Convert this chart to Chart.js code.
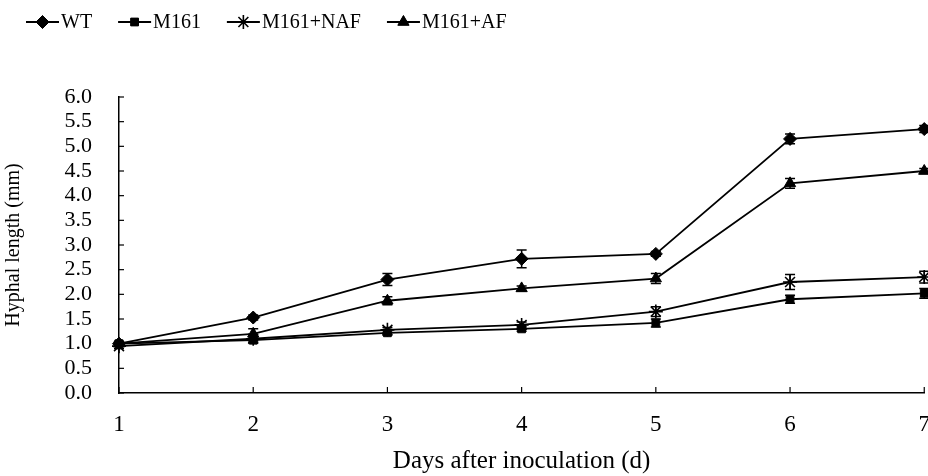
<!DOCTYPE html>
<html>
<head>
<meta charset="utf-8">
<script src="https://cdn.jsdelivr.net/npm/chart.js@4.4.1/dist/chart.umd.min.js"></script>
<style>
  html, body { margin: 0; padding: 0; background: #ffffff; overflow: hidden; }
  #wrap { width: 948px; height: 476px; position: relative; }
</style>
</head>
<body>
<div id="wrap"><canvas id="hyphaChart"></canvas></div>
<script>
// ===== Data =====
const days = [1, 2, 3, 4, 5, 6, 7];
const yTicks = [0, 0.5, 1, 1.5, 2, 2.5, 3, 3.5, 4, 4.5, 5, 5.5, 6];

const wt = [1.0, 1.53, 2.30, 2.72, 2.82, 5.15, 5.35];
const wtErr = [0.05, 0.05, 0.12, 0.18, 0.05, 0.10, 0.07];

const m161 = [1.0, 1.07, 1.22, 1.30, 1.42, 1.90, 2.02];
const m161Err = [0.04, 0.04, 0.05, 0.05, 0.08, 0.08, 0.10];

const naf = [0.95, 1.10, 1.28, 1.38, 1.65, 2.25, 2.35];
const nafErr = [0.05, 0.04, 0.05, 0.06, 0.10, 0.15, 0.12];

const af = [1.0, 1.20, 1.87, 2.12, 2.32, 4.25, 4.50];
const afErr = [0.04, 0.10, 0.08, 0.05, 0.10, 0.10, 0.05];

const FONT = "'Liberation Serif', 'Times New Roman', serif";

function toPoints(vals) {
  return days.map((d, i) => ({ x: d, y: vals[i] }));
}

function series(label, vals, errs, style, radius) {
  return {
    label: label,
    data: toPoints(vals),
    errors: errs,
    borderColor: '#000000',
    backgroundColor: '#000000',
    borderWidth: 1.8,
    pointStyle: style,
    pointRadius: radius,
    pointBorderWidth: style === 'star' ? 1.6 : 1,
    pointBorderColor: '#000000',
    pointBackgroundColor: '#000000',
    tension: 0,
    clip: false
  };
}

// error bars + inward axis ticks + legend
const extras = {
  id: 'extras',
  beforeDatasetsDraw(chart) {
    const ctx = chart.ctx;
    const xs = chart.scales.x, ys = chart.scales.y;
    ctx.save();
    ctx.strokeStyle = '#000000';
    ctx.lineWidth = 1.5;
    chart.data.datasets.forEach(ds => {
      ds.data.forEach((p, i) => {
        const e = ds.errors[i];
        const px = xs.getPixelForValue(p.x);
        const y1 = ys.getPixelForValue(p.y + e);
        const y2 = ys.getPixelForValue(p.y - e);
        ctx.beginPath();
        ctx.moveTo(px, y1); ctx.lineTo(px, y2);
        ctx.moveTo(px - 5, y1); ctx.lineTo(px + 5, y1);
        ctx.moveTo(px - 5, y2); ctx.lineTo(px + 5, y2);
        ctx.stroke();
      });
    });
    // inward ticks
    ctx.lineWidth = 1.2;
    const a = chart.chartArea;
    yTicks.forEach(v => {
      const py = ys.getPixelForValue(v);
      ctx.beginPath(); ctx.moveTo(a.left, py); ctx.lineTo(a.left + 5, py); ctx.stroke();
    });
    days.forEach(d => {
      const px = xs.getPixelForValue(d);
      ctx.beginPath(); ctx.moveTo(px, a.bottom); ctx.lineTo(px, a.bottom - 6); ctx.stroke();
    });
    ctx.restore();
  },
  afterDraw(chart) {
    const ctx = chart.ctx;
    ctx.save();
    ctx.font = '20px ' + FONT;
    ctx.textBaseline = 'middle';
    ctx.fillStyle = '#000000';
    ctx.strokeStyle = '#000000';
    let x = 26;
    const y = 22;
    chart.data.datasets.forEach(ds => {
      ctx.lineWidth = 1.8;
      ctx.beginPath(); ctx.moveTo(x, y); ctx.lineTo(x + 33, y); ctx.stroke();
      ctx.lineWidth = ds.pointBorderWidth;
      Chart.helpers.drawPoint(ctx, { pointStyle: ds.pointStyle, radius: ds.pointRadius, borderWidth: ds.pointBorderWidth }, x + 16.5, y);
      ctx.fill();
      ctx.fillText(ds.label, x + 35, y + 1);
      x += 35 + ctx.measureText(ds.label).width + 26;
    });
    ctx.restore();
  }
};

const ctx = document.getElementById('hyphaChart').getContext('2d');
new Chart(ctx, {
  type: 'line',
  data: {
    datasets: [
      series('WT', wt, wtErr, 'rectRot', 6.5),
      series('M161', m161, m161Err, 'rect', 5.5),
      series('M161+NAF', naf, nafErr, 'star', 7),
      series('M161+AF', af, afErr, 'triangle', 6.5)
    ]
  },
  plugins: [extras],
  options: {
    responsive: true,
    maintainAspectRatio: false,
    animation: false,
    layout: { padding: { top: 97, right: 0, bottom: 0, left: 0 } },
    plugins: {
      legend: { display: false },
      tooltip: { enabled: false }
    },
    scales: {
      x: {
        type: 'linear',
        min: 1,
        max: 7,
        afterFit(scale) { scale.height = 83; },
        ticks: { stepSize: 1, color: '#000000', padding: 18, font: { family: FONT, size: 23 } },
        grid: { display: true, drawOnChartArea: false, drawTicks: false },
        border: { color: '#000000', width: 1.5 },
        title: { display: true, text: 'Days after inoculation (d)', color: '#000000', font: { family: FONT, size: 25 }, padding: { top: 0, bottom: 0 } }
      },
      y: {
        min: 0,
        max: 6,
        afterFit(scale) { scale.width = 119; },
        afterBuildTicks(scale) { scale.ticks = yTicks.map(v => ({ value: v })); },
        ticks: {
          color: '#000000',
          padding: 27,
          autoSkip: false,
          font: { family: FONT, size: 22 },
          callback: v => v.toFixed(1)
        },
        grid: { display: true, drawOnChartArea: false, drawTicks: false },
        border: { color: '#000000', width: 1.5 },
        title: { display: true, text: 'Hyphal length (mm)', color: '#000000', font: { family: FONT, size: 20 }, padding: { top: 2, bottom: 0 } }
      }
    }
  }
});
</script>
</body>
</html>
